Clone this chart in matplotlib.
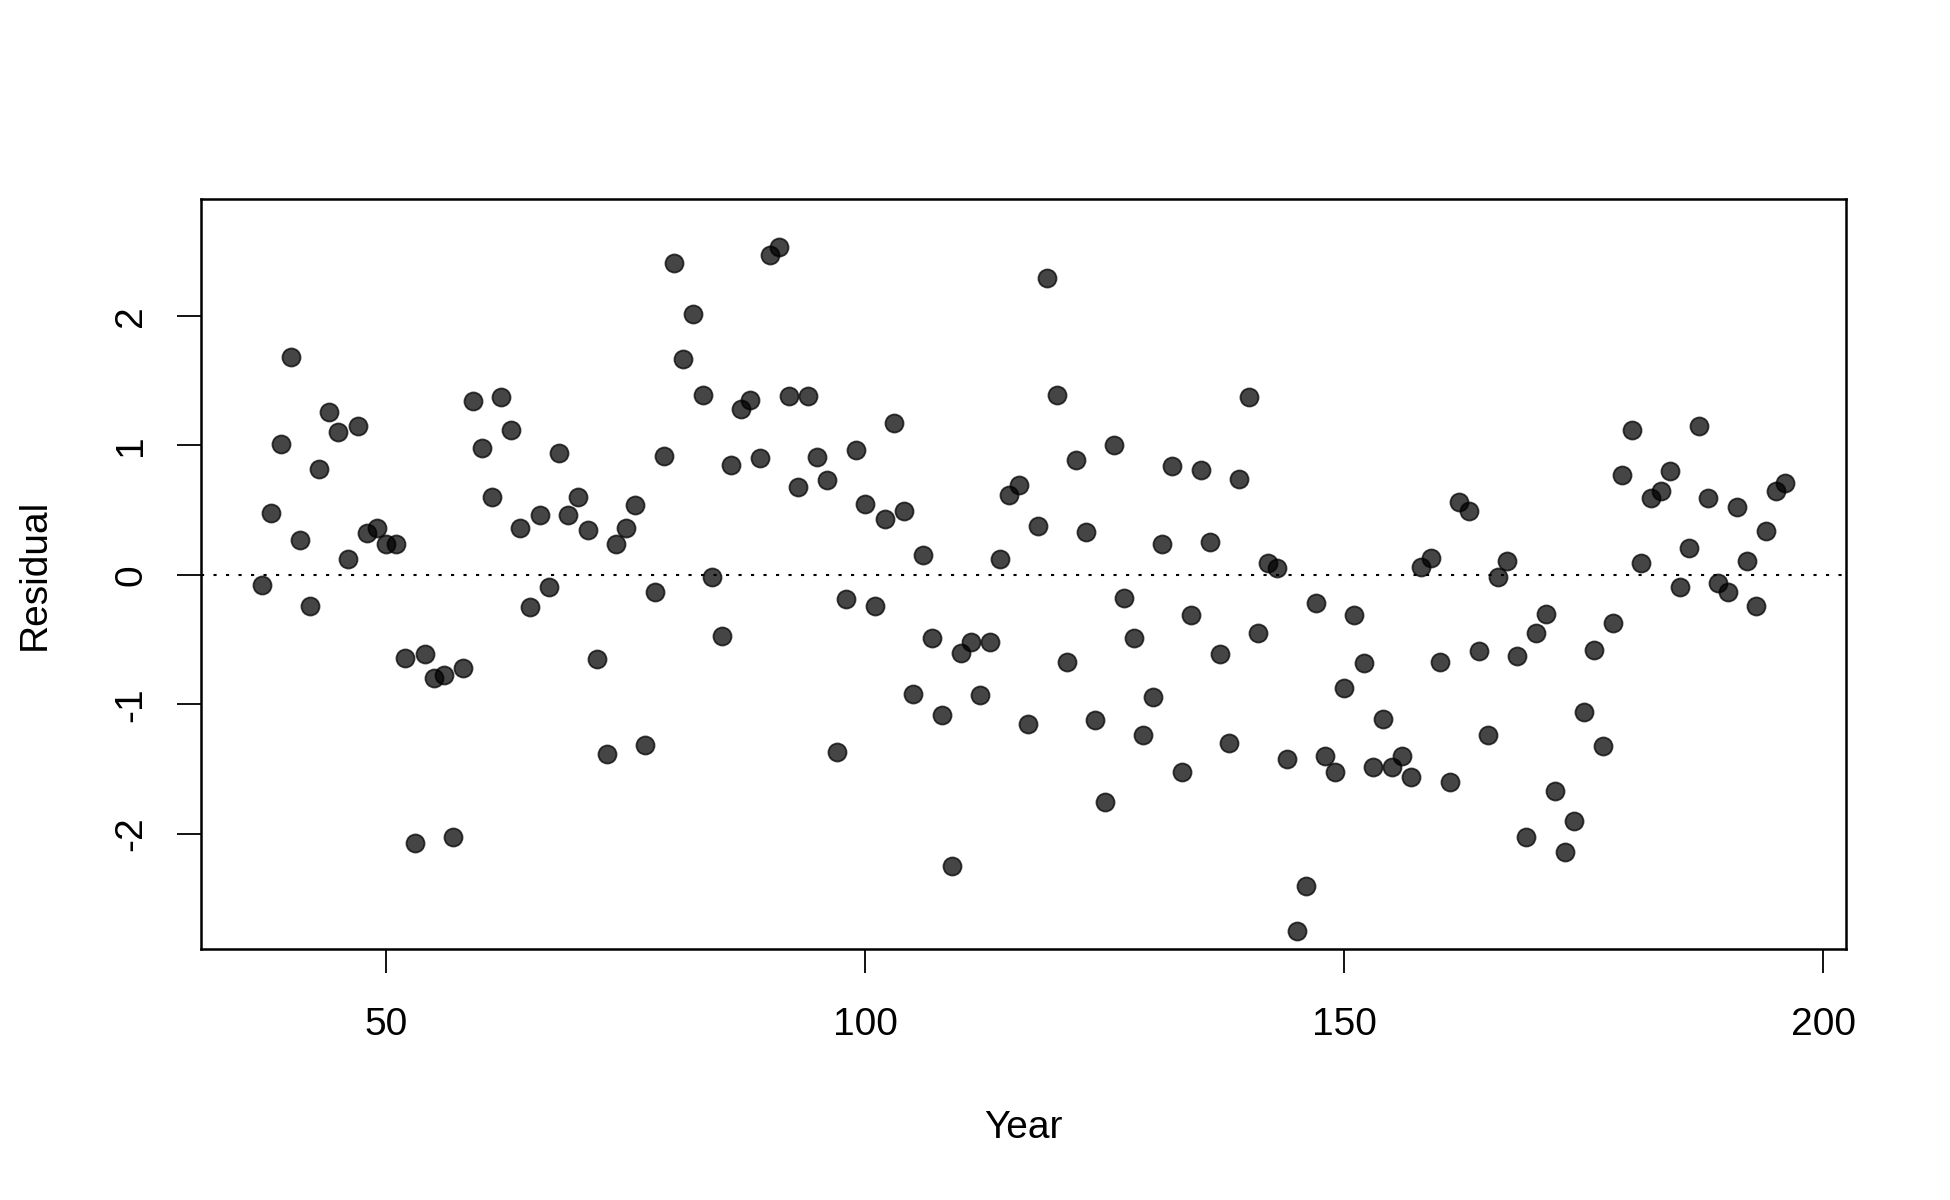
import numpy as np
import matplotlib
matplotlib.use('Agg')
import matplotlib.pyplot as plt

# residual per year
years = list(range(37, 197))
residuals = [
    -0.08, 0.48, 1.01, 1.68, 0.27, -0.24, 0.82, 1.26, 1.10, 0.12,   # 37-46
    1.15, 0.32, 0.36, 0.24, 0.24, -0.64, -2.07, -0.61, -0.80, -0.77,  # 47-56
    -2.02, -0.72, 1.34, 0.98, 0.60, 1.37, 1.12, 0.36, -0.25, 0.46,   # 57-66
    -0.09, 0.94, 0.46, 0.60, 0.35, -0.65, -1.38, 0.24, 0.36, 0.54,   # 67-76
    -1.31, -0.13, 0.92, 2.41, 1.67, 2.01, 1.39, -0.02, -0.47, 0.85,  # 77-86
    1.28, 1.35, 0.90, 2.47, 2.53, 1.38, 0.68, 1.38, 0.91, 0.73,      # 87-96
    -1.37, -0.19, 0.96, 0.55, -0.24, 0.43, 1.17, 0.49, -0.92, 0.15,  # 97-106
    -0.49, -1.08, -2.25, -0.60, -0.52, -0.93, -0.52, 0.12, 0.62, 0.69,  # 107-116
    -1.15, 0.38, 2.29, 1.39, -0.67, 0.89, 0.33, -1.12, -1.75, 1.00,  # 117-126
    -0.18, -0.49, -1.24, -0.94, 0.24, 0.84, -1.52, -0.31, 0.81, 0.25,  # 127-136
    -0.61, -1.30, 0.74, 1.37, -0.45, 0.09, 0.05, -1.42, -2.75, -2.40,  # 137-146
    -0.22, -1.40, -1.52, -0.87, -0.31, -0.68, -1.48, -1.11, -1.48, -1.40,  # 147-156
    -1.56, 0.06, 0.13, -0.67, -1.60, 0.56, 0.49, -0.59, -1.24, -0.02,  # 157-166
    0.11, -0.63, -2.02, -0.45, -0.30, -1.67, -2.14, -1.90, -1.06, -0.58,  # 167-176
    -1.32, -0.37, 0.77, 1.12, 0.09, 0.59, 0.65, 0.80, -0.09, 0.21,   # 177-186
    1.15, 0.59, -0.06, -0.13, 0.52, 0.11, -0.24, 0.34, 0.65, 0.71,   # 187-196
]
x_ticks = [50, 100, 150, 200]
y_ticks = [-2, -1, 0, 1, 2]

plt.rcParams['font.family'] = ['Liberation Sans', 'DejaVu Sans']

fig = plt.figure(figsize=(19.5, 12), dpi=100)
ax = fig.add_axes([0.103, 0.209, 0.8437, 0.625])

pt_col = (0, 0, 0, 0.73)
ax.plot(years, residuals, linestyle='none', marker='o', markersize=13,
        markerfacecolor=pt_col, markeredgecolor=pt_col, markeredgewidth=1.3)
ax.axhline(0, color='black', linewidth=1.5, linestyle=(0, (1.5, 4.5)))

x0, x1 = min(years), max(years)
ext = (x1 - x0) * 0.04
ax.set_xlim(x0 - ext, x1 + ext)
ax.set_ylim(-2.89, 2.90)

ax.set_xticks(x_ticks)
ax.set_yticks(y_ticks)
ax.set_yticklabels([str(v) for v in y_ticks], rotation=90, va='center')
ax.tick_params(axis='both', direction='out', length=17, width=1.3,
               labelsize=28)
ax.tick_params(axis='x', pad=24.5)
ax.tick_params(axis='y', pad=20)
for s in ax.spines.values():
    s.set_linewidth(1.8)

ax.set_xlabel('Year', fontsize=28, labelpad=48)
ax.set_ylabel('Residual', fontsize=28, labelpad=44)

fig.savefig('out.png', dpi=100)
